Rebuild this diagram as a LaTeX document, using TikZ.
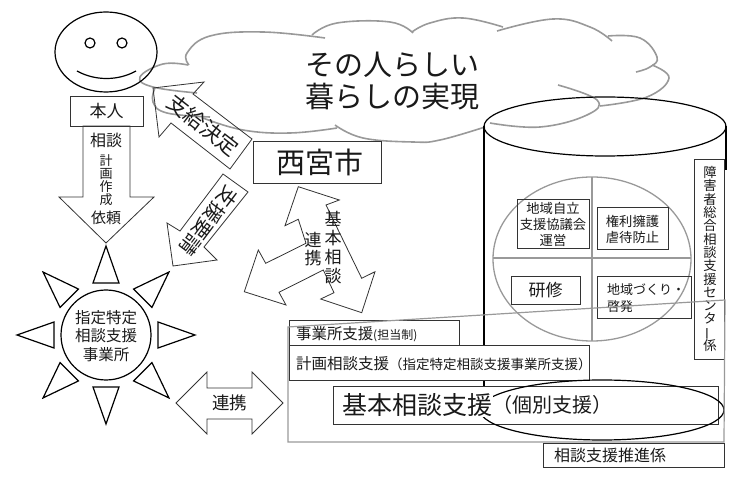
\documentclass[tikz,border=0pt]{standalone}
\usepackage{fontspec}
\setmainfont{Noto Sans CJK JP}
\setlength{\lineskiplimit}{-20pt}
\newcommand{\fs}[2]{\fontsize{#1}{#2}\selectfont}
\definecolor{cloudgray}{gray}{0.6}
\definecolor{inkline}{gray}{0.2}
\tikzset{
    label/.style={inner sep=0pt, align=center, text=black!90},
    box/.style={draw=inkline, line width=0.7pt, inner sep=0pt},
    whitebox/.style={box, fill=white},
    blockarrow/.style={draw=inkline, line width=0.8pt, line join=miter},
    grayline/.style={draw=cloudgray, line width=1.6pt},
    thinframe/.style={draw=cloudgray, line width=1.2pt},
    boldline/.style={draw=black, line width=1.2pt}
}
\begin{document}
\begin{tikzpicture}[x=1pt, y=-1pt]
    \useasboundingbox (0,0) rectangle (740,481);

    % 雲
    \draw[grayline] plot[smooth, tension=0.7] coordinates {(189,65) (187,53) (210,36) (263,32) (325,38)};
    \draw[grayline] plot[smooth, tension=0.7] coordinates {(312,35) (337,23) (390,22) (413,33)};
    \draw[grayline] plot[smooth, tension=0.7] coordinates {(412,32) (430,23) (463,18) (503,27)};
    \draw[grayline] plot[smooth, tension=0.7] coordinates {(497,31) (553,19) (590,27) (612,41)};
    \draw[grayline] plot[smooth, tension=0.7] coordinates {(608,36) (640,38) (657,57) (650,67) (636,72)};
    \draw[grayline] plot[smooth, tension=0.7] coordinates {(652,65) (669,78) (647,97) (600,106)};
    \draw[grayline] plot[smooth, tension=0.7] coordinates {(558,85) (597,100) (587,115) (540,127) (490,123)};
    \draw[grayline] plot[smooth, tension=0.7] coordinates {(335,125) (363,138) (413,142) (440,140) (485,127)};
    \draw[grayline] plot[smooth, tension=0.7] coordinates {(203,118) (243,130) (290,133) (337,128)};
    \draw[grayline] plot[smooth, tension=0.7] coordinates {(155,88) (153,102) (167,113) (210,117)};
    \draw[grayline] plot[smooth, tension=0.7] coordinates {(188,65) (163,64) (140,77) (153,87) (197,93)};
    \node[label, font={\fs{29}{32}}] (goal) at (392,81) {その人らしい\\暮らしの実現};

    % 本人
    \draw[boldline] (106,52) ellipse (51 and 40);
    \draw[boldline] (90,43) circle (5);
    \draw[boldline] (122,43) circle (5);
    \draw[boldline] (77,71) .. controls (95,81) and (118,81) .. (136,71);
    \node[whitebox, minimum width=73pt, minimum height=30pt] (person) at (106.5,111) {};
    \node[label, font={\fs{17}{17}}] (personlabel) at (person) {本人};

    % 相談の矢印
    \draw[blockarrow] (83,126) -- (130,126) -- (130,197) -- (154,197) -- (106,243) -- (59,197) -- (83,197) -- cycle;
    \node[label, font={\fs{16}{16}}] (consult) at (106,140) {相談};
    \node[label, font={\fs{13}{13}}] (plan) at (106,180) {計\\画\\作\\成};
    \node[label, font={\fs{15}{15}}] (request) at (106,218) {依頼};

    % 指定特定相談支援事業所
    \draw[boldline] (106,335) circle (45);
    \foreach \a in {0,45,...,315}{
        \draw[boldline, shift={(106,335)}, rotate=\a] (0,-89) -- (13,-52) -- (-13,-52) -- cycle;
    }
    \node[label, font={\fs{15.5}{18.5}}] (office) at (106,336) {指定特定\\相談支援\\事業所};

    % 支給決定と支援要請
    \draw[blockarrow] (153,88) -- (204,82) -- (193,94) -- (252,139) -- (230,169) -- (171,123) -- (159,137) -- cycle;
    \node[label, rotate=-38, font={\fs{21}{21}}] (decision) at (203,125) {支給決定};
    \draw[blockarrow] (173,266) -- (167,223) -- (180,231) -- (223,174) -- (248,192) -- (204,247) -- (217,260) -- cycle;
    \node[label, rotate=-127, font={\fs{20}{20}}] (apply) at (209,221) {支援要請};

    % 西宮市
    \node[box, minimum width=128pt, minimum height=42pt] (city) at (317,162) {};
    \node[label, font={\fs{29}{29}}] (citylabel) at (320,162) {西宮市};

    % 基本相談と連携の矢印
    \draw[blockarrow] (298.3,186.7) -- (339.3,200) -- (326,205) -- (361.7,278.3) -- (375,271.7)
        -- (361.7,312.7) -- (320.7,299) -- (334,292.7) -- (323.3,270) -- (279,292.3) -- (286,305)
        -- (244.3,291.7) -- (258.3,250) -- (265.7,263.3) -- (306,243.3) -- (298.3,219.3) -- (285,225.7) -- cycle;
    \node[label, font={\fs{17}{19}}] (basic) at (333,248) {基\\本\\相\\談};
    \node[label, font={\fs{17}{18.5}}] (link) at (313,249) {連\\携};

    % 連携の矢印
    \draw[blockarrow] (176,403) -- (207,372) -- (207,388) -- (252,388) -- (252,372) -- (283,403)
        -- (252,434) -- (252,419) -- (207,419) -- (207,434) -- cycle;
    \node[label, font={\fs{17.5}{17.5}}] (linkb) at (229.5,403) {連携};

    % 円筒
    \draw[boldline] (605,126.5) ellipse (121 and 29.5);
    \draw[boldline] (484,126.5) -- (484,386);
    \draw[boldline] (726,126.5) -- (726,170);

    % 円と十字
    \draw[grayline, line width=1.3pt] (592,259) ellipse (99 and 82);
    \draw[grayline, line width=1.3pt] (592,177) -- (592,341);
    \draw[grayline, line width=1.3pt] (493,258) -- (691,258);

    \node[box, minimum width=72pt, minimum height=49pt] (council) at (553,223.5) {};
    \node[label, font={\fs{13.3}{16}}] (councillabel) at (553,224) {地域自立\\支援協議会\\運営};
    \node[box, minimum width=71pt, minimum height=42pt] (rights) at (632.5,228) {};
    \node[label, font={\fs{13.3}{16}}] (rightslabel) at (632.5,229) {権利擁護\\虐待防止};
    \node[box, minimum width=69pt, minimum height=28pt] (training) at (545.5,290) {};
    \node[label, font={\fs{17}{17}}] (traininglabel) at (545.5,290) {研修};
    \node[box, minimum width=94pt, minimum height=42pt] (community) at (644,297) {};
    \node[label, align=left, anchor=west, font={\fs{13}{17}}] (communitylabel) at (607,298.5) {地域づくり・\\啓発};

    % 障害者総合相談支援センター係
    \node[whitebox, minimum width=30pt, minimum height=200pt] (center) at (709,259) {};
    \node[label, font={\fs{13.3}{13.3}}] (centerlabel) at (710,259) {障\\害\\者\\総\\合\\相\\談\\支\\援\\セ\\ン\\タ\\\rotatebox[origin=c]{90}{ー}\\係};

    % 相談支援の枠
    \node[whitebox, minimum width=170pt, minimum height=25pt] (officebox) at (374,332.5) {};
    \node[label, anchor=west, font={\fs{15.4}{15.4}}] (officetext) at (296,334) {事業所支援\fs{12}{12}(担当制)};
    \node[whitebox, minimum width=300pt, minimum height=35pt] (planbox) at (439,362.5) {};
    \node[label, anchor=west, font={\fs{15.5}{15.5}}] (plantext) at (296,364) {計画相談支援\fs{13.5}{13.5}（指定特定相談支援事業所支援）};
    \node[box, minimum width=385pt, minimum height=38pt] (basebox) at (525.5,405) {};
    \draw[boldline] (602,410) ellipse (122 and 30);
    \node[label, fill=white, font={\fs{25}{25}}] (basetext) at (417.5,405) {基本相談支援};
    \node[label, font={\fs{20}{20}}] (indiv) at (552,405) {（個別支援）};
    \draw[thinframe] (288,327) -- (725,300) -- (724,442) -- (288,442) -- cycle;
    \node[box, minimum width=181pt, minimum height=24pt] (staff) at (633.5,455) {};
    \node[label, font={\fs{16}{16}}] (stafflabel) at (610,455) {相談支援推進係};
\end{tikzpicture}
\end{document}
